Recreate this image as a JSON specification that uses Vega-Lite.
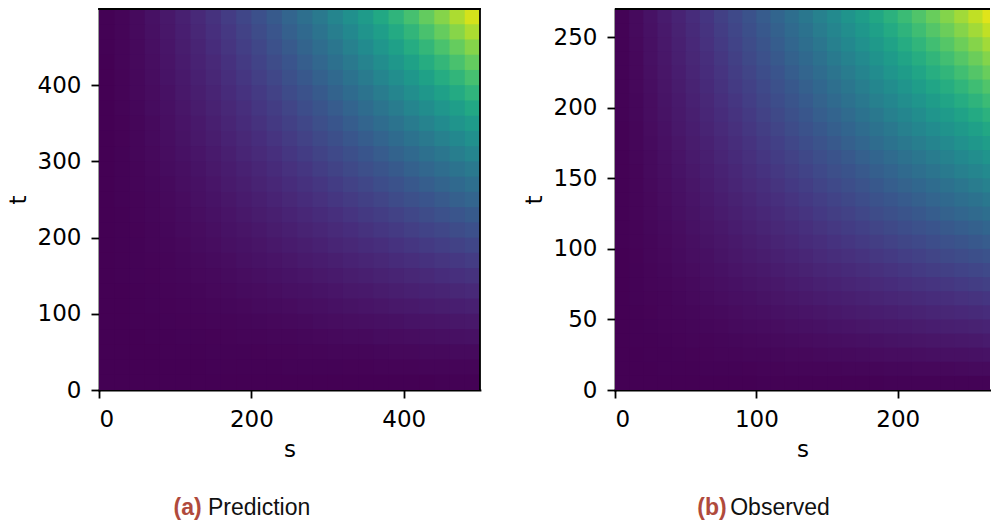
{
"$schema": "https://vega.github.io/schema/vega-lite/v6.json",
"padding": {"left": 7, "top": 7, "right": 0, "bottom": 0},
"bounds": "flush",
"spacing": 135,
"config": {
 "view": {"stroke": null},
 "axis": {"labelFont": "DejaVu Sans", "labelFontSize": 23, "titleFont": "DejaVu Sans", "titleFontSize": 23, "titleFontWeight": "normal", "labelColor": "#000", "titleColor": "#000", "tickColor": "#000", "domainColor": "#000", "tickSize": 8, "tickWidth": 1.8, "domainWidth": 1.8, "domainCap": "square", "labelPadding": 10, "grid": false},
 "axisY": {"minExtent": 60, "maxExtent": 60, "titlePadding": 9},
 "axisX": {"minExtent": 40, "maxExtent": 40, "titlePadding": 8}
},
"datasets": {
"pred": [
{"t0":0,"t1":20,"s0":[0,20,40,60,80,100,120,140,160,180,200,220,240,260,280,300,320,340,360,380,400,420,440,460,480],"s1":[20,40,60,80,100,120,140,160,180,200,220,240,260,280,300,320,340,360,380,400,420,440,460,480,500],"v":[0,0,0,0,0,0,0,0,0,0,0,0.001,0.001,0.001,0.001,0.001,0.001,0.001,0.001,0.001,0.001,0.001,0.002,0.002,0.002]},
{"t0":20,"t1":40,"s0":[0,20,40,60,80,100,120,140,160,180,200,220,240,260,280,300,320,340,360,380,400,420,440,460,480],"s1":[20,40,60,80,100,120,140,160,180,200,220,240,260,280,300,320,340,360,380,400,420,440,460,480,500],"v":[0,0,0,0,0.001,0.001,0.001,0.002,0.002,0.002,0.003,0.003,0.004,0.004,0.005,0.005,0.006,0.006,0.007,0.007,0.008,0.009,0.009,0.01,0.011]},
{"t0":40,"t1":60,"s0":[0,20,40,60,80,100,120,140,160,180,200,220,240,260,280,300,320,340,360,380,400,420,440,460,480],"s1":[20,40,60,80,100,120,140,160,180,200,220,240,260,280,300,320,340,360,380,400,420,440,460,480,500],"v":[0,0,0.001,0.001,0.002,0.002,0.003,0.004,0.004,0.005,0.006,0.007,0.008,0.009,0.01,0.012,0.013,0.014,0.016,0.017,0.018,0.02,0.021,0.023,0.024]},
{"t0":60,"t1":80,"s0":[0,20,40,60,80,100,120,140,160,180,200,220,240,260,280,300,320,340,360,380,400,420,440,460,480],"s1":[20,40,60,80,100,120,140,160,180,200,220,240,260,280,300,320,340,360,380,400,420,440,460,480,500],"v":[0,0,0.001,0.002,0.003,0.004,0.005,0.006,0.008,0.009,0.011,0.012,0.014,0.016,0.018,0.02,0.022,0.024,0.027,0.029,0.031,0.034,0.036,0.039,0.042]},
{"t0":80,"t1":100,"s0":[0,20,40,60,80,100,120,140,160,180,200,220,240,260,280,300,320,340,360,380,400,420,440,460,480],"s1":[20,40,60,80,100,120,140,160,180,200,220,240,260,280,300,320,340,360,380,400,420,440,460,480,500],"v":[0,0.001,0.002,0.003,0.004,0.006,0.007,0.009,0.011,0.014,0.016,0.019,0.021,0.024,0.027,0.03,0.033,0.036,0.04,0.043,0.047,0.051,0.054,0.058,0.062]},
{"t0":100,"t1":120,"s0":[0,20,40,60,80,100,120,140,160,180,200,220,240,260,280,300,320,340,360,380,400,420,440,460,480],"s1":[20,40,60,80,100,120,140,160,180,200,220,240,260,280,300,320,340,360,380,400,420,440,460,480,500],"v":[0,0.001,0.002,0.004,0.006,0.008,0.01,0.013,0.016,0.019,0.022,0.026,0.029,0.033,0.037,0.041,0.046,0.05,0.055,0.06,0.065,0.07,0.075,0.08,0.086]},
{"t0":120,"t1":140,"s0":[0,20,40,60,80,100,120,140,160,180,200,220,240,260,280,300,320,340,360,380,400,420,440,460,480],"s1":[20,40,60,80,100,120,140,160,180,200,220,240,260,280,300,320,340,360,380,400,420,440,460,480,500],"v":[0,0.001,0.003,0.005,0.007,0.01,0.013,0.017,0.021,0.025,0.029,0.033,0.038,0.043,0.048,0.054,0.06,0.065,0.072,0.078,0.084,0.091,0.098,0.105,0.112]},
{"t0":140,"t1":160,"s0":[0,20,40,60,80,100,120,140,160,180,200,220,240,260,280,300,320,340,360,380,400,420,440,460,480],"s1":[20,40,60,80,100,120,140,160,180,200,220,240,260,280,300,320,340,360,380,400,420,440,460,480,500],"v":[0,0.002,0.004,0.006,0.009,0.013,0.017,0.021,0.026,0.031,0.036,0.042,0.048,0.054,0.061,0.068,0.075,0.082,0.09,0.098,0.106,0.114,0.123,0.132,0.141]},
{"t0":160,"t1":180,"s0":[0,20,40,60,80,100,120,140,160,180,200,220,240,260,280,300,320,340,360,380,400,420,440,460,480],"s1":[20,40,60,80,100,120,140,160,180,200,220,240,260,280,300,320,340,360,380,400,420,440,460,480,500],"v":[0,0.002,0.004,0.008,0.011,0.016,0.021,0.026,0.032,0.038,0.044,0.051,0.059,0.066,0.074,0.083,0.092,0.101,0.11,0.12,0.13,0.14,0.15,0.161,0.172]},
{"t0":180,"t1":200,"s0":[0,20,40,60,80,100,120,140,160,180,200,220,240,260,280,300,320,340,360,380,400,420,440,460,480],"s1":[20,40,60,80,100,120,140,160,180,200,220,240,260,280,300,320,340,360,380,400,420,440,460,480,500],"v":[0,0.002,0.005,0.009,0.014,0.019,0.025,0.031,0.038,0.045,0.053,0.061,0.07,0.079,0.089,0.099,0.109,0.12,0.131,0.143,0.155,0.167,0.18,0.193,0.206]},
{"t0":200,"t1":220,"s0":[0,20,40,60,80,100,120,140,160,180,200,220,240,260,280,300,320,340,360,380,400,420,440,460,480],"s1":[20,40,60,80,100,120,140,160,180,200,220,240,260,280,300,320,340,360,380,400,420,440,460,480,500],"v":[0,0.003,0.006,0.011,0.016,0.022,0.029,0.036,0.044,0.053,0.062,0.072,0.082,0.093,0.104,0.116,0.128,0.141,0.154,0.168,0.182,0.196,0.211,0.226,0.242]},
{"t0":220,"t1":240,"s0":[0,20,40,60,80,100,120,140,160,180,200,220,240,260,280,300,320,340,360,380,400,420,440,460,480],"s1":[20,40,60,80,100,120,140,160,180,200,220,240,260,280,300,320,340,360,380,400,420,440,460,480,500],"v":[0.001,0.003,0.007,0.012,0.019,0.026,0.033,0.042,0.051,0.061,0.072,0.083,0.095,0.108,0.121,0.134,0.149,0.163,0.178,0.194,0.21,0.227,0.244,0.261,0.28]},
{"t0":240,"t1":260,"s0":[0,20,40,60,80,100,120,140,160,180,200,220,240,260,280,300,320,340,360,380,400,420,440,460,480],"s1":[20,40,60,80,100,120,140,160,180,200,220,240,260,280,300,320,340,360,380,400,420,440,460,480,500],"v":[0.001,0.004,0.008,0.014,0.021,0.029,0.038,0.048,0.059,0.07,0.082,0.095,0.109,0.123,0.138,0.154,0.17,0.186,0.204,0.222,0.24,0.259,0.279,0.299,0.319]},
{"t0":260,"t1":280,"s0":[0,20,40,60,80,100,120,140,160,180,200,220,240,260,280,300,320,340,360,380,400,420,440,460,480],"s1":[20,40,60,80,100,120,140,160,180,200,220,240,260,280,300,320,340,360,380,400,420,440,460,480,500],"v":[0.001,0.004,0.009,0.016,0.024,0.033,0.043,0.054,0.066,0.079,0.093,0.108,0.123,0.139,0.156,0.174,0.192,0.211,0.23,0.251,0.272,0.293,0.315,0.338,0.361]},
{"t0":280,"t1":300,"s0":[0,20,40,60,80,100,120,140,160,180,200,220,240,260,280,300,320,340,360,380,400,420,440,460,480],"s1":[20,40,60,80,100,120,140,160,180,200,220,240,260,280,300,320,340,360,380,400,420,440,460,480,500],"v":[0.001,0.005,0.01,0.018,0.027,0.037,0.048,0.061,0.074,0.089,0.104,0.121,0.138,0.156,0.175,0.195,0.215,0.236,0.258,0.281,0.305,0.329,0.353,0.379,0.405]},
{"t0":300,"t1":320,"s0":[0,20,40,60,80,100,120,140,160,180,200,220,240,260,280,300,320,340,360,380,400,420,440,460,480],"s1":[20,40,60,80,100,120,140,160,180,200,220,240,260,280,300,320,340,360,380,400,420,440,460,480,500],"v":[0.001,0.005,0.012,0.02,0.03,0.041,0.054,0.068,0.083,0.099,0.116,0.134,0.154,0.174,0.195,0.217,0.239,0.263,0.287,0.313,0.339,0.366,0.393,0.422,0.451]},
{"t0":320,"t1":340,"s0":[0,20,40,60,80,100,120,140,160,180,200,220,240,260,280,300,320,340,360,380,400,420,440,460,480],"s1":[20,40,60,80,100,120,140,160,180,200,220,240,260,280,300,320,340,360,380,400,420,440,460,480,500],"v":[0.001,0.006,0.013,0.022,0.033,0.046,0.06,0.075,0.092,0.109,0.128,0.149,0.17,0.192,0.215,0.239,0.265,0.291,0.318,0.346,0.374,0.404,0.435,0.466,0.498]},
{"t0":340,"t1":360,"s0":[0,20,40,60,80,100,120,140,160,180,200,220,240,260,280,300,320,340,360,380,400,420,440,460,480],"s1":[20,40,60,80,100,120,140,160,180,200,220,240,260,280,300,320,340,360,380,400,420,440,460,480,500],"v":[0.001,0.006,0.014,0.024,0.036,0.05,0.065,0.082,0.101,0.12,0.141,0.163,0.186,0.211,0.236,0.263,0.291,0.319,0.349,0.38,0.411,0.444,0.477,0.512,0.547]},
{"t0":360,"t1":380,"s0":[0,20,40,60,80,100,120,140,160,180,200,220,240,260,280,300,320,340,360,380,400,420,440,460,480],"s1":[20,40,60,80,100,120,140,160,180,200,220,240,260,280,300,320,340,360,380,400,420,440,460,480,500],"v":[0.001,0.007,0.016,0.027,0.04,0.055,0.072,0.09,0.11,0.131,0.154,0.178,0.204,0.23,0.258,0.287,0.318,0.349,0.382,0.415,0.45,0.485,0.522,0.559,0.598]},
{"t0":380,"t1":400,"s0":[0,20,40,60,80,100,120,140,160,180,200,220,240,260,280,300,320,340,360,380,400,420,440,460,480],"s1":[20,40,60,80,100,120,140,160,180,200,220,240,260,280,300,320,340,360,380,400,420,440,460,480,500],"v":[0.001,0.007,0.017,0.029,0.043,0.06,0.078,0.098,0.12,0.143,0.168,0.194,0.222,0.251,0.281,0.313,0.346,0.38,0.415,0.451,0.489,0.528,0.568,0.609,0.651]},
{"t0":400,"t1":420,"s0":[0,20,40,60,80,100,120,140,160,180,200,220,240,260,280,300,320,340,360,380,400,420,440,460,480],"s1":[20,40,60,80,100,120,140,160,180,200,220,240,260,280,300,320,340,360,380,400,420,440,460,480,500],"v":[0.001,0.008,0.018,0.031,0.047,0.065,0.084,0.106,0.13,0.155,0.182,0.21,0.24,0.272,0.305,0.339,0.374,0.411,0.45,0.489,0.53,0.572,0.615,0.659,0.705]},
{"t0":420,"t1":440,"s0":[0,20,40,60,80,100,120,140,160,180,200,220,240,260,280,300,320,340,360,380,400,420,440,460,480],"s1":[20,40,60,80,100,120,140,160,180,200,220,240,260,280,300,320,340,360,380,400,420,440,460,480,500],"v":[0.001,0.009,0.02,0.034,0.051,0.07,0.091,0.114,0.14,0.167,0.196,0.227,0.259,0.293,0.329,0.366,0.404,0.444,0.485,0.528,0.572,0.617,0.664,0.712,0.761]},
{"t0":440,"t1":460,"s0":[0,20,40,60,80,100,120,140,160,180,200,220,240,260,280,300,320,340,360,380,400,420,440,460,480],"s1":[20,40,60,80,100,120,140,160,180,200,220,240,260,280,300,320,340,360,380,400,420,440,460,480,500],"v":[0.002,0.009,0.021,0.036,0.054,0.075,0.098,0.123,0.15,0.18,0.211,0.244,0.279,0.315,0.353,0.393,0.435,0.477,0.522,0.568,0.615,0.664,0.714,0.765,0.818]},
{"t0":460,"t1":480,"s0":[0,20,40,60,80,100,120,140,160,180,200,220,240,260,280,300,320,340,360,380,400,420,440,460,480],"s1":[20,40,60,80,100,120,140,160,180,200,220,240,260,280,300,320,340,360,380,400,420,440,460,480,500],"v":[0.002,0.01,0.023,0.039,0.058,0.08,0.105,0.132,0.161,0.193,0.226,0.261,0.299,0.338,0.379,0.422,0.466,0.512,0.559,0.609,0.659,0.712,0.765,0.82,0.877]},
{"t0":480,"t1":500,"s0":[0,20,40,60,80,100,120,140,160,180,200,220,240,260,280,300,320,340,360,380,400,420,440,460,480],"s1":[20,40,60,80,100,120,140,160,180,200,220,240,260,280,300,320,340,360,380,400,420,440,460,480,500],"v":[0.002,0.011,0.024,0.042,0.062,0.086,0.112,0.141,0.172,0.206,0.242,0.28,0.319,0.361,0.405,0.451,0.498,0.547,0.598,0.651,0.705,0.761,0.818,0.877,0.937]}
],
"obs": [
{"t0":0,"t1":10,"s0":[0,10,20,30,40,50,60,70,80,90,100,110,120,130,140,150,160,170,180,190,200,210,220,230,240,250,260],"s1":[10,20,30,40,50,60,70,80,90,100,110,120,130,140,150,160,170,180,190,200,210,220,230,240,250,260,270],"v":[0,0,0,0,0.001,0.001,0.001,0.001,0.001,0.001,0.002,0.002,0.002,0.002,0.002,0.003,0.003,0.003,0.003,0.004,0.004,0.004,0.004,0.005,0.005,0.005,0.005]},
{"t0":10,"t1":20,"s0":[0,10,20,30,40,50,60,70,80,90,100,110,120,130,140,150,160,170,180,190,200,210,220,230,240,250,260],"s1":[10,20,30,40,50,60,70,80,90,100,110,120,130,140,150,160,170,180,190,200,210,220,230,240,250,260,270],"v":[0,0.001,0.001,0.002,0.002,0.003,0.004,0.004,0.005,0.006,0.007,0.008,0.009,0.009,0.01,0.011,0.012,0.013,0.014,0.015,0.016,0.017,0.018,0.019,0.021,0.022,0.023]},
{"t0":20,"t1":30,"s0":[0,10,20,30,40,50,60,70,80,90,100,110,120,130,140,150,160,170,180,190,200,210,220,230,240,250,260],"s1":[10,20,30,40,50,60,70,80,90,100,110,120,130,140,150,160,170,180,190,200,210,220,230,240,250,260,270],"v":[0,0.001,0.002,0.003,0.004,0.006,0.007,0.009,0.01,0.012,0.013,0.015,0.017,0.018,0.02,0.022,0.024,0.026,0.028,0.03,0.032,0.034,0.036,0.038,0.04,0.042,0.044]},
{"t0":30,"t1":40,"s0":[0,10,20,30,40,50,60,70,80,90,100,110,120,130,140,150,160,170,180,190,200,210,220,230,240,250,260],"s1":[10,20,30,40,50,60,70,80,90,100,110,120,130,140,150,160,170,180,190,200,210,220,230,240,250,260,270],"v":[0,0.002,0.003,0.005,0.007,0.009,0.011,0.013,0.016,0.018,0.021,0.023,0.026,0.029,0.031,0.034,0.037,0.04,0.043,0.046,0.049,0.052,0.055,0.059,0.062,0.065,0.069]},
{"t0":40,"t1":50,"s0":[0,10,20,30,40,50,60,70,80,90,100,110,120,130,140,150,160,170,180,190,200,210,220,230,240,250,260],"s1":[10,20,30,40,50,60,70,80,90,100,110,120,130,140,150,160,170,180,190,200,210,220,230,240,250,260,270],"v":[0.001,0.002,0.004,0.007,0.009,0.012,0.015,0.018,0.022,0.025,0.029,0.032,0.036,0.04,0.043,0.047,0.051,0.055,0.06,0.064,0.068,0.072,0.077,0.081,0.086,0.09,0.095]},
{"t0":50,"t1":60,"s0":[0,10,20,30,40,50,60,70,80,90,100,110,120,130,140,150,160,170,180,190,200,210,220,230,240,250,260],"s1":[10,20,30,40,50,60,70,80,90,100,110,120,130,140,150,160,170,180,190,200,210,220,230,240,250,260,270],"v":[0.001,0.003,0.006,0.009,0.012,0.016,0.02,0.024,0.028,0.033,0.037,0.042,0.046,0.051,0.056,0.061,0.067,0.072,0.077,0.083,0.088,0.094,0.1,0.106,0.111,0.117,0.123]},
{"t0":60,"t1":70,"s0":[0,10,20,30,40,50,60,70,80,90,100,110,120,130,140,150,160,170,180,190,200,210,220,230,240,250,260],"s1":[10,20,30,40,50,60,70,80,90,100,110,120,130,140,150,160,170,180,190,200,210,220,230,240,250,260,270],"v":[0.001,0.004,0.007,0.011,0.015,0.02,0.025,0.03,0.035,0.04,0.046,0.052,0.058,0.064,0.07,0.076,0.083,0.089,0.096,0.103,0.11,0.117,0.124,0.131,0.138,0.146,0.153]},
{"t0":70,"t1":80,"s0":[0,10,20,30,40,50,60,70,80,90,100,110,120,130,140,150,160,170,180,190,200,210,220,230,240,250,260],"s1":[10,20,30,40,50,60,70,80,90,100,110,120,130,140,150,160,170,180,190,200,210,220,230,240,250,260,270],"v":[0.001,0.004,0.009,0.013,0.018,0.024,0.03,0.036,0.042,0.049,0.055,0.062,0.07,0.077,0.084,0.092,0.1,0.108,0.116,0.124,0.132,0.141,0.149,0.158,0.167,0.176,0.185]},
{"t0":80,"t1":90,"s0":[0,10,20,30,40,50,60,70,80,90,100,110,120,130,140,150,160,170,180,190,200,210,220,230,240,250,260],"s1":[10,20,30,40,50,60,70,80,90,100,110,120,130,140,150,160,170,180,190,200,210,220,230,240,250,260,270],"v":[0.001,0.005,0.01,0.016,0.022,0.028,0.035,0.042,0.05,0.057,0.065,0.073,0.082,0.09,0.099,0.108,0.117,0.127,0.136,0.146,0.156,0.166,0.176,0.186,0.196,0.207,0.217]},
{"t0":90,"t1":100,"s0":[0,10,20,30,40,50,60,70,80,90,100,110,120,130,140,150,160,170,180,190,200,210,220,230,240,250,260],"s1":[10,20,30,40,50,60,70,80,90,100,110,120,130,140,150,160,170,180,190,200,210,220,230,240,250,260,270],"v":[0.001,0.006,0.012,0.018,0.025,0.033,0.04,0.049,0.057,0.066,0.075,0.085,0.095,0.104,0.115,0.125,0.136,0.146,0.157,0.168,0.18,0.191,0.203,0.215,0.227,0.239,0.251]},
{"t0":100,"t1":110,"s0":[0,10,20,30,40,50,60,70,80,90,100,110,120,130,140,150,160,170,180,190,200,210,220,230,240,250,260],"s1":[10,20,30,40,50,60,70,80,90,100,110,120,130,140,150,160,170,180,190,200,210,220,230,240,250,260,270],"v":[0.002,0.007,0.013,0.021,0.029,0.037,0.046,0.055,0.065,0.075,0.086,0.097,0.108,0.119,0.131,0.142,0.154,0.167,0.179,0.192,0.205,0.218,0.231,0.245,0.258,0.272,0.286]},
{"t0":110,"t1":120,"s0":[0,10,20,30,40,50,60,70,80,90,100,110,120,130,140,150,160,170,180,190,200,210,220,230,240,250,260],"s1":[10,20,30,40,50,60,70,80,90,100,110,120,130,140,150,160,170,180,190,200,210,220,230,240,250,260,270],"v":[0.002,0.008,0.015,0.023,0.032,0.042,0.052,0.062,0.073,0.085,0.097,0.109,0.121,0.134,0.147,0.16,0.174,0.188,0.202,0.216,0.23,0.245,0.26,0.275,0.291,0.306,0.322]},
{"t0":120,"t1":130,"s0":[0,10,20,30,40,50,60,70,80,90,100,110,120,130,140,150,160,170,180,190,200,210,220,230,240,250,260],"s1":[10,20,30,40,50,60,70,80,90,100,110,120,130,140,150,160,170,180,190,200,210,220,230,240,250,260,270],"v":[0.002,0.009,0.017,0.026,0.036,0.046,0.058,0.07,0.082,0.095,0.108,0.121,0.135,0.149,0.164,0.179,0.194,0.209,0.225,0.241,0.257,0.273,0.29,0.307,0.324,0.341,0.359]},
{"t0":130,"t1":140,"s0":[0,10,20,30,40,50,60,70,80,90,100,110,120,130,140,150,160,170,180,190,200,210,220,230,240,250,260],"s1":[10,20,30,40,50,60,70,80,90,100,110,120,130,140,150,160,170,180,190,200,210,220,230,240,250,260,270],"v":[0.002,0.009,0.018,0.029,0.04,0.051,0.064,0.077,0.09,0.104,0.119,0.134,0.149,0.165,0.181,0.197,0.214,0.231,0.248,0.266,0.284,0.302,0.32,0.339,0.358,0.377,0.396]},
{"t0":140,"t1":150,"s0":[0,10,20,30,40,50,60,70,80,90,100,110,120,130,140,150,160,170,180,190,200,210,220,230,240,250,260],"s1":[10,20,30,40,50,60,70,80,90,100,110,120,130,140,150,160,170,180,190,200,210,220,230,240,250,260,270],"v":[0.002,0.01,0.02,0.031,0.043,0.056,0.07,0.084,0.099,0.115,0.131,0.147,0.164,0.181,0.199,0.217,0.235,0.254,0.273,0.292,0.312,0.331,0.352,0.372,0.393,0.414,0.435]},
{"t0":150,"t1":160,"s0":[0,10,20,30,40,50,60,70,80,90,100,110,120,130,140,150,160,170,180,190,200,210,220,230,240,250,260],"s1":[10,20,30,40,50,60,70,80,90,100,110,120,130,140,150,160,170,180,190,200,210,220,230,240,250,260,270],"v":[0.003,0.011,0.022,0.034,0.047,0.061,0.076,0.092,0.108,0.125,0.142,0.16,0.179,0.197,0.217,0.236,0.256,0.277,0.297,0.318,0.34,0.361,0.383,0.406,0.428,0.451,0.474]},
{"t0":160,"t1":170,"s0":[0,10,20,30,40,50,60,70,80,90,100,110,120,130,140,150,160,170,180,190,200,210,220,230,240,250,260],"s1":[10,20,30,40,50,60,70,80,90,100,110,120,130,140,150,160,170,180,190,200,210,220,230,240,250,260,270],"v":[0.003,0.012,0.024,0.037,0.051,0.067,0.083,0.1,0.117,0.136,0.154,0.174,0.194,0.214,0.235,0.256,0.278,0.3,0.322,0.345,0.369,0.392,0.416,0.44,0.465,0.489,0.515]},
{"t0":170,"t1":180,"s0":[0,10,20,30,40,50,60,70,80,90,100,110,120,130,140,150,160,170,180,190,200,210,220,230,240,250,260],"s1":[10,20,30,40,50,60,70,80,90,100,110,120,130,140,150,160,170,180,190,200,210,220,230,240,250,260,270],"v":[0.003,0.013,0.026,0.04,0.055,0.072,0.089,0.108,0.127,0.146,0.167,0.188,0.209,0.231,0.254,0.277,0.3,0.324,0.348,0.373,0.398,0.423,0.449,0.475,0.502,0.528,0.555]},
{"t0":180,"t1":190,"s0":[0,10,20,30,40,50,60,70,80,90,100,110,120,130,140,150,160,170,180,190,200,210,220,230,240,250,260],"s1":[10,20,30,40,50,60,70,80,90,100,110,120,130,140,150,160,170,180,190,200,210,220,230,240,250,260,270],"v":[0.003,0.014,0.028,0.043,0.06,0.077,0.096,0.116,0.136,0.157,0.179,0.202,0.225,0.248,0.273,0.297,0.322,0.348,0.374,0.401,0.428,0.455,0.483,0.511,0.539,0.568,0.597]},
{"t0":190,"t1":200,"s0":[0,10,20,30,40,50,60,70,80,90,100,110,120,130,140,150,160,170,180,190,200,210,220,230,240,250,260],"s1":[10,20,30,40,50,60,70,80,90,100,110,120,130,140,150,160,170,180,190,200,210,220,230,240,250,260,270],"v":[0.004,0.015,0.03,0.046,0.064,0.083,0.103,0.124,0.146,0.168,0.192,0.216,0.241,0.266,0.292,0.318,0.345,0.373,0.401,0.429,0.458,0.487,0.517,0.547,0.577,0.608,0.639]},
{"t0":200,"t1":210,"s0":[0,10,20,30,40,50,60,70,80,90,100,110,120,130,140,150,160,170,180,190,200,210,220,230,240,250,260],"s1":[10,20,30,40,50,60,70,80,90,100,110,120,130,140,150,160,170,180,190,200,210,220,230,240,250,260,270],"v":[0.004,0.016,0.032,0.049,0.068,0.088,0.11,0.132,0.156,0.18,0.205,0.23,0.257,0.284,0.312,0.34,0.369,0.398,0.428,0.458,0.489,0.52,0.552,0.584,0.616,0.649,0.682]},
{"t0":210,"t1":220,"s0":[0,10,20,30,40,50,60,70,80,90,100,110,120,130,140,150,160,170,180,190,200,210,220,230,240,250,260],"s1":[10,20,30,40,50,60,70,80,90,100,110,120,130,140,150,160,170,180,190,200,210,220,230,240,250,260,270],"v":[0.004,0.017,0.034,0.052,0.072,0.094,0.117,0.141,0.166,0.191,0.218,0.245,0.273,0.302,0.331,0.361,0.392,0.423,0.455,0.487,0.52,0.553,0.587,0.621,0.655,0.69,0.726]},
{"t0":220,"t1":230,"s0":[0,10,20,30,40,50,60,70,80,90,100,110,120,130,140,150,160,170,180,190,200,210,220,230,240,250,260],"s1":[10,20,30,40,50,60,70,80,90,100,110,120,130,140,150,160,170,180,190,200,210,220,230,240,250,260,270],"v":[0.004,0.018,0.036,0.055,0.077,0.1,0.124,0.149,0.176,0.203,0.231,0.26,0.29,0.32,0.352,0.383,0.416,0.449,0.483,0.517,0.552,0.587,0.623,0.659,0.695,0.733,0.77]},
{"t0":230,"t1":240,"s0":[0,10,20,30,40,50,60,70,80,90,100,110,120,130,140,150,160,170,180,190,200,210,220,230,240,250,260],"s1":[10,20,30,40,50,60,70,80,90,100,110,120,130,140,150,160,170,180,190,200,210,220,230,240,250,260,270],"v":[0.005,0.019,0.038,0.059,0.081,0.106,0.131,0.158,0.186,0.215,0.245,0.275,0.307,0.339,0.372,0.406,0.44,0.475,0.511,0.547,0.584,0.621,0.659,0.697,0.736,0.775,0.815]},
{"t0":240,"t1":250,"s0":[0,10,20,30,40,50,60,70,80,90,100,110,120,130,140,150,160,170,180,190,200,210,220,230,240,250,260],"s1":[10,20,30,40,50,60,70,80,90,100,110,120,130,140,150,160,170,180,190,200,210,220,230,240,250,260,270],"v":[0.005,0.021,0.04,0.062,0.086,0.111,0.138,0.167,0.196,0.227,0.258,0.291,0.324,0.358,0.393,0.428,0.465,0.502,0.539,0.577,0.616,0.655,0.695,0.736,0.777,0.818,0.86]},
{"t0":250,"t1":260,"s0":[0,10,20,30,40,50,60,70,80,90,100,110,120,130,140,150,160,170,180,190,200,210,220,230,240,250,260],"s1":[10,20,30,40,50,60,70,80,90,100,110,120,130,140,150,160,170,180,190,200,210,220,230,240,250,260,270],"v":[0.005,0.022,0.042,0.065,0.09,0.117,0.146,0.176,0.207,0.239,0.272,0.306,0.341,0.377,0.414,0.451,0.489,0.528,0.568,0.608,0.649,0.69,0.733,0.775,0.818,0.862,0.906]},
{"t0":260,"t1":270,"s0":[0,10,20,30,40,50,60,70,80,90,100,110,120,130,140,150,160,170,180,190,200,210,220,230,240,250,260],"s1":[10,20,30,40,50,60,70,80,90,100,110,120,130,140,150,160,170,180,190,200,210,220,230,240,250,260,270],"v":[0.005,0.023,0.044,0.069,0.095,0.123,0.153,0.185,0.217,0.251,0.286,0.322,0.359,0.396,0.435,0.474,0.515,0.555,0.597,0.639,0.682,0.726,0.77,0.815,0.86,0.906,0.953]}
]
},
"hconcat": [
{
 "width": 381, "height": 381,
 "layer": [
  {"data": {"name": "pred"},
   "transform": [{"flatten": ["s0", "s1", "v"]}],
   "mark": {"type": "rect", "clip": true, "x2Offset": 1, "y2Offset": -1},
   "encoding": {
    "x": {"field": "s0", "type": "quantitative", "scale": {"domain": [0, 500], "nice": false, "zero": false}, "axis": {"values": [0, 200, 400], "title": "s"}},
    "x2": {"field": "s1"},
    "y": {"field": "t0", "type": "quantitative", "scale": {"domain": [0, 500], "nice": false, "zero": false}, "axis": {"values": [0, 100, 200, 300, 400], "title": "t"}},
    "y2": {"field": "t1"},
    "color": {"field": "v", "type": "quantitative", "scale": {"scheme": "viridis", "domain": [0, 1]}, "legend": null}
   }},
  {"data": {"values": [{}]}, "mark": {"type": "rule", "color": "#000", "strokeWidth": 1.8, "strokeCap": "square"}, "encoding": {"y": {"datum": 500}}},
  {"data": {"values": [{}]}, "mark": {"type": "rule", "color": "#000", "strokeWidth": 1.8, "strokeCap": "square"}, "encoding": {"x": {"datum": 500}}},
  {"data": {"values": [{}]}, "mark": {"type": "text", "text": "(a)", "align": "right", "baseline": "alphabetic", "font": "Liberation Sans", "fontSize": 23, "fontWeight": "bold", "color": "#b04a3c"}, "encoding": {"x": {"datum": 134.8}, "y": {"datum": -164.4}}},
  {"data": {"values": [{}]}, "mark": {"type": "text", "text": "Prediction", "align": "left", "baseline": "alphabetic", "font": "Liberation Sans", "fontSize": 23, "color": "#111"}, "encoding": {"x": {"datum": 143}, "y": {"datum": -164.4}}}
 ]
},
{
 "width": 375, "height": 381,
 "layer": [
  {"data": {"name": "obs"},
   "transform": [{"flatten": ["s0", "s1", "v"]}],
   "mark": {"type": "rect", "clip": true, "x2Offset": 1, "y2Offset": -1},
   "encoding": {
    "x": {"field": "s0", "type": "quantitative", "scale": {"domain": [0, 265.3], "nice": false, "zero": false}, "axis": {"values": [0, 100, 200], "title": "s"}},
    "x2": {"field": "s1"},
    "y": {"field": "t0", "type": "quantitative", "scale": {"domain": [0, 270], "nice": false, "zero": false}, "axis": {"values": [0, 50, 100, 150, 200, 250], "title": "t"}},
    "y2": {"field": "t1"},
    "color": {"field": "v", "type": "quantitative", "scale": {"scheme": "viridis", "domain": [0, 1]}, "legend": null}
   }},
  {"data": {"values": [{}]}, "mark": {"type": "rule", "color": "#000", "strokeWidth": 1.8}, "encoding": {"y": {"datum": 270}}},
  {"data": {"values": [{}]}, "mark": {"type": "text", "text": "(b)", "align": "right", "baseline": "alphabetic", "font": "Liberation Sans", "fontSize": 23, "fontWeight": "bold", "color": "#b04a3c"}, "encoding": {"x": {"datum": 79.0}, "y": {"datum": -88.7}}},
  {"data": {"values": [{}]}, "mark": {"type": "text", "text": "Observed", "align": "left", "baseline": "alphabetic", "font": "Liberation Sans", "fontSize": 23, "color": "#111"}, "encoding": {"x": {"datum": 81.5}, "y": {"datum": -88.7}}}
 ]
}
]
}
